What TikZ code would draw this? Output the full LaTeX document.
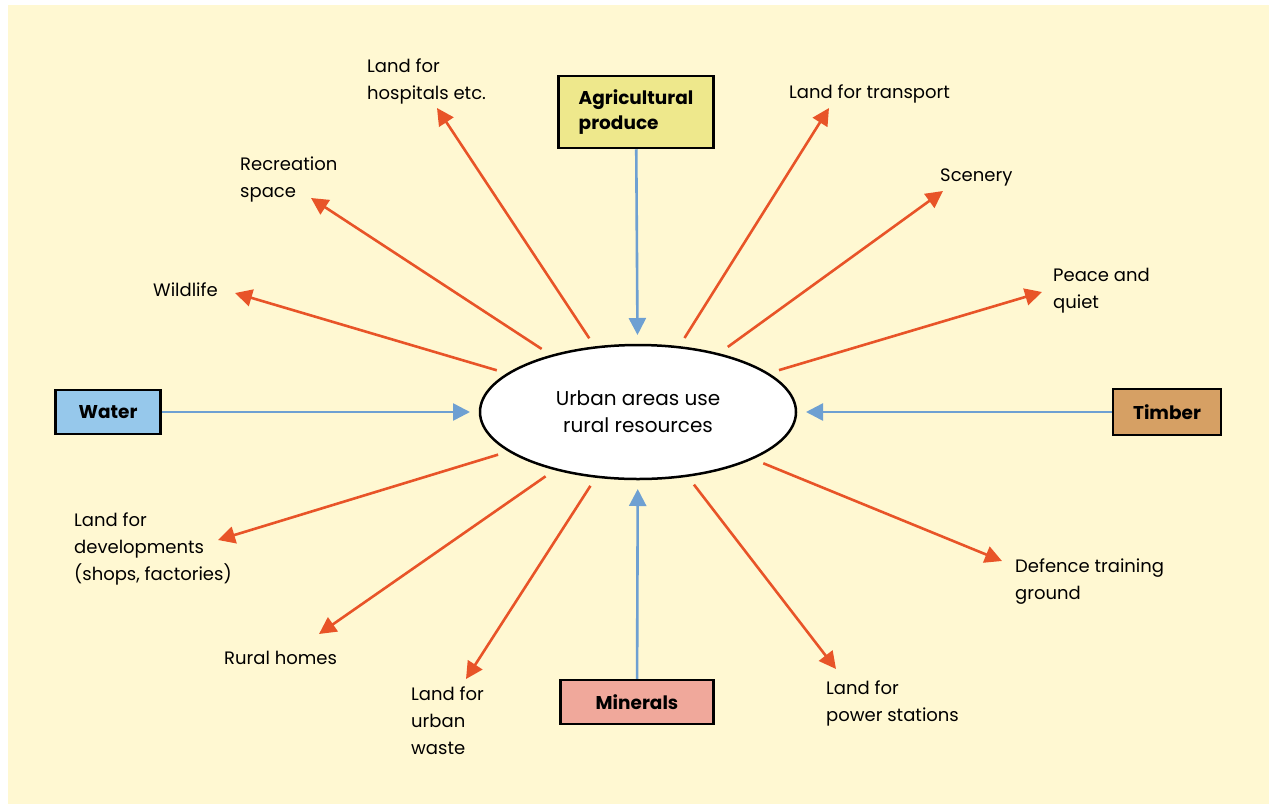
\documentclass[tikz,border=0pt]{standalone}
\usepackage{fontspec}
\setmainfont{Poppins}
\usepackage{xcolor}
\usetikzlibrary{arrows.meta,shapes.geometric}

\definecolor{bgyellow}{RGB}{255,248,210}
\definecolor{agrifill}{RGB}{238,232,140}
\definecolor{waterfill}{RGB}{150,200,235}
\definecolor{timberfill}{RGB}{214,160,100}
\definecolor{mineralfill}{RGB}{240,168,155}
\definecolor{usered}{RGB}{232,84,40}
\definecolor{supblue}{RGB}{110,160,210}

\begin{document}
\begin{tikzpicture}[x=1pt,y=-1pt,
    resource/.style={draw=black, line width=2.5pt, font=\fontsize{18.5}{25}\selectfont\bfseries, align=left, inner sep=0pt},
    use/.style={font=\fontsize{18}{27}\selectfont, align=left, anchor=north west, inner sep=0pt},
    redarrow/.style={draw=usered, line width=2.6pt, -{Triangle[length=17pt,width=17pt]}},
    bluearrow/.style={draw=supblue, line width=2.6pt, -{Triangle[length=17pt,width=17pt]}}]
            \fill[white] (0,0) rectangle (1273,806);
            \fill[bgyellow] (8,5) rectangle (1269,804);
            \useasboundingbox (0,0) rectangle (1273,806);
            \node[draw=black, line width=2.5pt, fill=white, ellipse, minimum width=316pt, minimum height=134pt, inner sep=0pt, outer sep=10pt, align=center, font=\fontsize{20}{27}\selectfont] (urban) at (638,412) {Urban areas use\\rural resources};
            \node[resource, fill=agrifill, minimum width=155pt, minimum height=72pt] (agri) at (636,112) {Agricultural\\produce};
            \node[resource, fill=waterfill, minimum width=105pt, minimum height=44pt] (water) at (108,412) {Water};
            \node[resource, fill=timberfill, minimum width=108pt, minimum height=46pt] (timber) at (1167,412) {Timber};
            \node[resource, fill=mineralfill, minimum width=153pt, minimum height=44pt] (minerals) at (637,702) {Minerals};
            \draw[bluearrow] (agri) -- (urban);
            \draw[bluearrow] (water) -- (urban);
            \draw[bluearrow] (timber) -- (urban);
            \draw[bluearrow] (minerals) -- (urban);
            \node[use] (wildlife) at (153,283) {Wildlife};
            \node[use] (recreation) at (240,157) {Recreation\\space};
            \node[use] (hospitals) at (367,59) {Land for\\hospitals etc.};
            \node[use] (transport) at (789,85) {Land for transport};
            \node[use] (scenery) at (940,169) {Scenery};
            \node[use] (peace) at (1053,268) {Peace and\\quiet};
            \node[use] (developments) at (74,513) {Land for\\developments\\(shops, factories)};
            \node[use] (homes) at (224,651) {Rural homes};
            \node[use] (waste) at (411,687) {Land for\\urban\\waste};
            \node[use] (power) at (826,681) {Land for\\power stations};
            \node[use] (defence) at (1015,559) {Defence training\\ground};
            \coordinate (tipwildlife) at (235,293);
            \coordinate (tiprecreation) at (311,198);
            \coordinate (tiphospitals) at (437,108);
            \coordinate (tiptransport) at (829,108);
            \coordinate (tipscenery) at (943,191);
            \coordinate (tippeace) at (1042,292);
            \coordinate (tipdevelopments) at (218,540);
            \coordinate (tiphomes) at (319,634);
            \coordinate (tipwaste) at (466,679);
            \coordinate (tippower) at (836,669);
            \coordinate (tipdefence) at (1002,561);
            \foreach \t in {wildlife,recreation,hospitals,transport,scenery,peace,developments,homes,waste,power,defence}
                \draw[redarrow] (urban) -- (tip\t);
        \end{tikzpicture}
\end{document}
